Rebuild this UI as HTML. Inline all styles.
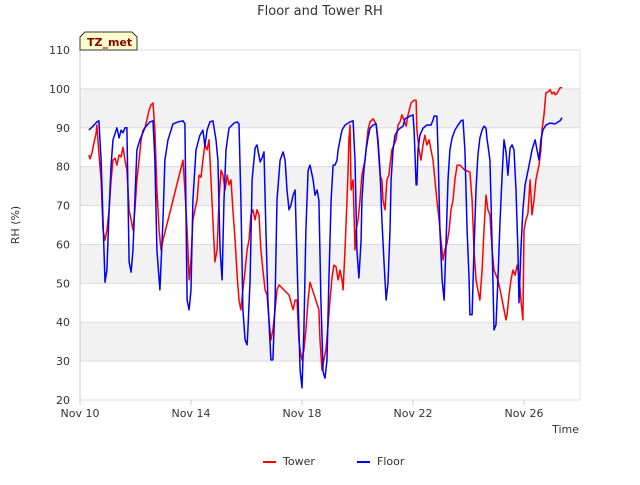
<!DOCTYPE html>
<html><head><meta charset="utf-8"><style>
body{margin:0;background:#fff;font-family:"Liberation Sans","DejaVu Sans",sans-serif;}
svg text{font-family:"DejaVu Sans","Liberation Sans",sans-serif;}
</style></head><body>
<svg id="chart" width="640" height="480" xmlns="http://www.w3.org/2000/svg">
<text x="320" y="15" text-anchor="middle" font-size="13" fill="#333">Floor and Tower RH</text>
<g id="bands"></g><g id="grid"></g><g id="ticks"></g><g id="series"></g>
<text x="19" y="225" text-anchor="middle" font-size="11" fill="#333" transform="rotate(-90 19 225)">RH (%)</text>
<text x="579" y="433" text-anchor="end" font-size="11" fill="#333">Time</text>
<g>
<path d="M80,50 L80,37 L85,32 L132,32 L137,37 L137,50 Z" fill="#ffffcc" stroke="#333" stroke-width="1"/>
<text x="87" y="46" font-size="11" font-weight="bold" fill="#8b0000">TZ_met</text>
</g>
<g><line x1="263" y1="462" x2="276" y2="462" stroke="#f00" stroke-width="2"/><text x="283" y="465" font-size="11" fill="#333">Tower</text></g>
<g><line x1="357" y1="462" x2="370" y2="462" stroke="#00f" stroke-width="2"/><text x="377" y="465" font-size="11" fill="#333">Floor</text></g>
</svg>
<script>
const yTicks=[20,30,40,50,60,70,80,90,100,110];
const xTickDays=[0,4,8,12,16];
const xTickLabels=["Nov 10","Nov 14","Nov 18","Nov 22","Nov 26"];
const floorDays=[0.32,0.47,0.61,0.68,0.76,0.83,0.90,0.97,1.05,1.12,1.19,1.33,1.41,1.48,1.55,1.62,1.69,1.77,1.84,1.91,1.98,2.05,2.16,2.34,2.52,2.63,2.70,2.77,2.88,2.99,3.06,3.17,3.35,3.53,3.71,3.78,3.86,3.93,4.00,4.07,4.18,4.32,4.43,4.50,4.58,4.68,4.79,4.90,4.97,5.05,5.12,5.19,5.26,5.37,5.55,5.66,5.73,5.80,5.87,5.95,6.02,6.05,6.13,6.20,6.31,6.38,6.49,6.56,6.63,6.70,6.77,6.88,6.95,7.03,7.10,7.21,7.32,7.39,7.46,7.53,7.60,7.68,7.75,7.86,7.93,8.00,8.07,8.14,8.22,8.29,8.40,8.47,8.54,8.61,8.68,8.76,8.83,8.90,8.97,9.05,9.12,9.19,9.26,9.30,9.37,9.44,9.55,9.73,9.84,9.91,9.98,10.05,10.13,10.16,10.23,10.31,10.38,10.45,10.56,10.67,10.74,10.81,10.88,10.95,11.03,11.10,11.17,11.21,11.28,11.35,11.46,11.53,11.64,11.71,11.89,12.00,12.04,12.11,12.14,12.18,12.25,12.36,12.50,12.65,12.72,12.76,12.86,12.90,12.97,13.05,13.12,13.19,13.26,13.33,13.41,13.51,13.62,13.73,13.80,13.87,13.95,14.02,14.05,14.13,14.20,14.27,14.34,14.41,14.49,14.56,14.63,14.67,14.70,14.77,14.81,14.88,14.92,14.99,15.06,15.14,15.21,15.28,15.35,15.42,15.50,15.57,15.64,15.71,15.78,15.82,15.89,15.96,16.04,16.11,16.22,16.29,16.40,16.47,16.54,16.61,16.68,16.79,16.94,17.12,17.30,17.37];
const floorRH=[89.4,90.4,91.5,91.8,81.7,66.3,50.3,53.4,68.9,80.4,86.9,90,87.4,89.4,88.7,90,90,55.5,52.9,58.6,71.4,84.3,86.9,90,91.5,91.8,81.7,58.6,48.3,66.3,81.7,86.9,91,91.5,91.8,91,45.7,43.2,48.3,71.4,84.3,88.1,89.4,85.3,89.4,91.5,91.8,86.9,81.7,58.6,50.9,71.4,84.3,89.9,91.2,91.5,91,71.4,43.2,35.4,34.2,38,50.9,76.6,84.8,85.6,81.2,82.2,83.8,63.7,45.7,30.3,30.3,45.7,71.4,81.7,83.8,81.7,74,68.9,70.1,72.7,74,45.7,27.7,23.1,38,63.7,79.1,80.4,76.6,72.7,74,71.4,45.7,27.2,25.6,30.3,50.9,71.4,80.4,80.4,81.7,84.3,86.9,89.4,90.7,91.5,91.8,81.7,58.6,51.4,61.1,71.4,79.1,84.3,87.4,89.9,90.7,91,86.9,79.1,66.3,56,45.7,50.1,63.7,76.6,84.3,88.1,89.4,89.9,90.4,92.3,93,93.3,89.4,75.3,75.3,84.3,88.1,89.9,90.7,90.7,92,93,93,84.3,63.7,50.9,45.7,59.9,76.6,84.3,87.4,89.4,90.7,91.8,92,84.3,63.7,50.9,41.9,41.9,58.6,74,83,87.4,89.4,90.4,89.9,86.9,85.6,81.7,71.4,50.9,38,39.3,50.9,66.3,77.8,86.9,83.8,77.8,84.8,85.6,84.3,74,58.6,45,58.6,68.9,75.3,77.8,81.7,84.3,86.9,84.3,81.7,86.9,89.4,90.7,91.2,91,91.8,92.6];
const towerDays=[0.32,0.36,0.43,0.50,0.58,0.61,0.68,0.76,0.83,0.90,0.97,1.05,1.12,1.19,1.26,1.33,1.41,1.48,1.55,1.62,1.69,1.77,1.84,1.91,1.98,2.05,2.13,2.20,2.27,2.34,2.41,2.49,2.56,2.63,2.70,2.77,2.85,2.92,2.99,3.71,3.78,3.86,3.93,4.00,4.07,4.14,4.22,4.29,4.36,4.43,4.50,4.58,4.65,4.72,4.79,4.86,4.94,5.01,5.08,5.15,5.23,5.30,5.37,5.44,5.51,5.59,5.66,5.73,5.80,5.87,5.95,6.02,6.09,6.16,6.23,6.31,6.38,6.45,6.52,6.59,6.67,6.74,6.81,6.88,6.95,7.03,7.10,7.17,7.53,7.68,7.75,7.82,7.89,7.93,8.00,8.07,8.14,8.22,8.29,8.61,8.65,8.72,8.79,8.86,8.94,9.01,9.08,9.15,9.23,9.30,9.37,9.44,9.48,9.55,9.62,9.66,9.69,9.73,9.77,9.84,9.87,9.91,9.95,10.02,10.09,10.16,10.27,10.38,10.45,10.56,10.67,10.74,10.81,10.88,10.92,10.99,11.06,11.13,11.17,11.24,11.31,11.39,11.46,11.53,11.60,11.68,11.75,11.82,11.93,12.04,12.11,12.14,12.22,12.29,12.36,12.43,12.50,12.58,12.65,12.72,12.79,12.86,12.94,13.01,13.08,13.15,13.23,13.30,13.37,13.44,13.51,13.59,13.69,13.87,14.05,14.13,14.20,14.27,14.34,14.41,14.49,14.56,14.63,14.70,14.77,14.85,14.92,14.99,15.06,15.14,15.21,15.28,15.35,15.39,15.46,15.53,15.60,15.68,15.75,15.82,15.89,15.96,16.00,16.07,16.14,16.22,16.29,16.36,16.43,16.54,16.61,16.65,16.72,16.79,16.86,16.94,17.01,17.08,17.12,17.18,17.30,17.37];
const towerRH=[83,82,83.5,86,88.6,90.7,83.5,76.6,63.7,61.1,63.7,68.9,76.6,81.7,82.2,80.4,83,82.5,85,81.7,79.1,68.9,66.3,63.7,68.9,76.6,81.7,86.9,89.4,90,92,94.6,95.9,96.4,89.4,74,63.7,58.6,61.1,81.7,74,63.7,50.9,56,66.3,68.9,71.4,77.8,77.3,81.7,85.6,84.3,86.9,76.6,66.3,55.5,58.6,71.4,79.1,77.8,74,77.8,75.3,76.6,68.9,61.1,52.1,45.7,43.2,48.3,53.4,58.6,61.1,67.6,68.9,66.3,68.9,67.6,58.6,53.4,48.3,47,40.6,35.4,38,43.2,48.3,49.6,47,43.2,45.7,45.7,35.4,32.9,30.3,32.9,38,45.7,50.3,43.2,35.4,27.7,30.3,32.9,39.3,45.7,51.4,54.7,54.2,50.9,53.4,50.9,48.3,58.6,71.4,79.1,86.9,90.7,74,76.6,68.9,58.6,63.7,66.3,71.4,77.8,81.7,89.4,91.5,92.3,91,85.6,77.8,76.6,71.4,68.9,76.6,77.8,80.4,84.3,85.6,86.9,90.7,91.5,93.3,92,90.4,93.3,96.4,97.1,97.1,89.4,84.3,81.7,85.6,88.1,85.6,86.9,84.3,81.7,76.6,71.4,66.3,61.1,56,58.6,60.4,63.7,68.9,71.4,76.6,80.4,80.4,79.1,78.6,71.4,58.6,50.9,48.3,45.7,53.4,63.7,72.7,68.9,67.6,58.6,53.4,52.1,50.9,48.3,45.7,43.2,40.6,41.9,47,50.9,53.4,52.1,54.7,52.1,45.7,40.6,63.7,66.3,67.9,76.6,67.6,71.4,76.6,80.4,84.3,89.4,93.3,99,99.2,99.8,98.7,99.2,98.5,98.7,100.3,100.3];

const NS="http://www.w3.org/2000/svg";
const L=80,R=580,T=50,B=400,YMIN=20,YMAX=110,DAYPX=27.75;
const xs=d=>L+d*DAYPX;
const ys=v=>B-(v-YMIN)/(YMAX-YMIN)*(B-T);
function mk(tag,attrs,parent){const e=document.createElementNS(NS,tag);for(const k in attrs)e.setAttribute(k,attrs[k]);document.getElementById(parent).appendChild(e);return e;}
for(let i=0;i<yTicks.length-1;i++){
  if(i%2===1){const r=mk('rect',{x:L,y:ys(yTicks[i+1]),width:R-L,height:ys(yTicks[i])-ys(yTicks[i+1]),fill:'#f2f2f2'},'bands');
  
  }
}
yTicks.forEach(v=>{
  const g=mk('line',{x1:L,x2:R,y1:ys(v),y2:ys(v),stroke:'#dcdcdc','stroke-width':1},'grid');
  
  
  const t=mk('text',{x:L-10,y:ys(v)+4,'text-anchor':'end','font-size':11,fill:'#333'},'ticks');
  t.textContent=v;
  
  
});
mk('line',{x1:L,x2:L,y1:T,y2:B,stroke:'#ccc'},'grid');
mk('line',{x1:R,x2:R,y1:T,y2:B,stroke:'#e0e0e0'},'grid');
xTickDays.forEach((d,i)=>{
  mk('line',{x1:xs(d),x2:xs(d),y1:B,y2:B+5,stroke:'#ccc'},'ticks');
  const t=mk('text',{x:xs(d),y:B+17,'text-anchor':'middle','font-size':11,fill:'#333'},'ticks');
  t.textContent=xTickLabels[i];
  
  
});
function line(days,vals,color,name){
  const d=days.map((x,i)=>(i?'L':'M')+xs(x).toFixed(1)+','+ys(vals[i]).toFixed(1)).join('');
  const p=mk('path',{d:d,fill:'none',stroke:color,'stroke-width':1.5,'stroke-linejoin':'round'},'series');
  
  
}
line(towerDays,towerRH,'#ff0000','tower-line');
line(floorDays,floorRH,'#0000ff','floor-line');
</script>
</body></html>
